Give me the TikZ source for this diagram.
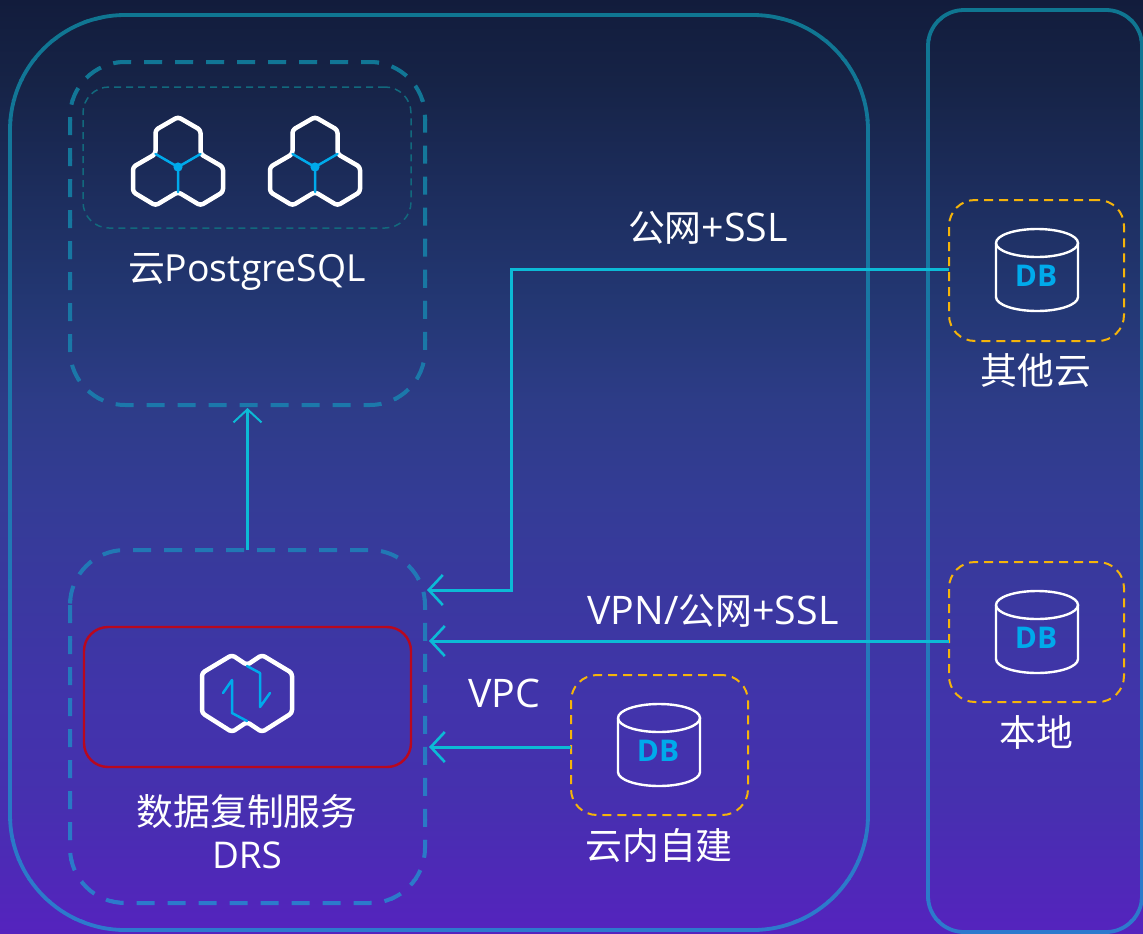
\documentclass[tikz,border=0pt]{standalone}
\usepackage{fontspec}
\setmainfont{Open Sans}
\newfontfamily\cjk{Noto Sans CJK SC}
\newcommand{\zh}[1]{{\cjk\fontsize{37}{43}\selectfont #1}}
\newcommand{\lat}[1]{{\fontsize{39.5}{43}\selectfont #1}}
\usetikzlibrary{arrows.meta,calc}
\definecolor{lineTop}{RGB}{15,118,145}
\definecolor{lineBot}{RGB}{45,122,205}
\definecolor{innerteal}{RGB}{18,105,125}
\definecolor{cyanline}{RGB}{12,186,214}
\definecolor{icoblue}{RGB}{0,170,235}
\definecolor{yel}{RGB}{245,180,10}
\definecolor{redb}{RGB}{185,8,30}
\pgfdeclareverticalshading{bgshade}{100bp}{
 rgb(0bp)=(0.333,0.137,0.745);
 rgb(25bp)=(0.333,0.137,0.745);
 rgb(32.2bp)=(0.275,0.188,0.686);
 rgb(37.5bp)=(0.255,0.204,0.667);
 rgb(48.2bp)=(0.204,0.235,0.588);
 rgb(53.6bp)=(0.176,0.235,0.529);
 rgb(58.9bp)=(0.137,0.216,0.451);
 rgb(70.7bp)=(0.086,0.137,0.275);
 rgb(75bp)=(0.071,0.110,0.235);
 rgb(100bp)=(0.071,0.110,0.235)}
\tikzset{
 holder/.style={rectangle,inner sep=0,outer sep=0,anchor=north west},
 panelline/.style={line width=3.8bp},
 dashline/.style={line width=4bp,rounded corners=55bp,dash pattern=on 18bp off 13bp},
 ybox/.style={draw=yel,line width=2bp,rectangle,rounded corners=26bp,inner sep=0,outer sep=0,dash pattern=on 9bp off 6bp},
 lbl/.style={text=white,font=\fontsize{37}{43}\selectfont,inner sep=0,align=center},
 conn/.style={draw=cyanline,line width=3bp,-{Straight Barb[length=14bp,width=30bp,line width=2.6bp]}},
 connthin/.style={draw=cyanline,line width=2.6bp,-{Straight Barb[length=13bp,width=28bp,line width=2bp]}},
 whiteico/.style={draw=white,line width=4.5bp,rounded corners=3bp,line join=round},
 blueico/.style={draw=icoblue,line width=2.5bp,line cap=round,line join=round},
}
\newcommand{\hexcluster}[1]{\begin{scope}[shift={(#1,0)}]
 \draw[whiteico] (178,117)--(200.5,130)--(200.5,154)--(223,167)--(223,192)--(200.5,205.5)--(178,192)--(155.5,205.5)--(133,192)--(133,167)--(155.5,154)--(155.5,130)--cycle;
 \draw[blueico] (155.5,154)--(178,167)--(200.5,154) (178,167)--(178,192);
 \fill[icoblue] (178,167) circle (4.6bp);
\end{scope}}
\newcommand{\cyl}[2]{\begin{scope}[shift={(#1,#2)}]
 \draw[white,line width=2.4bp] (996,243) arc[start angle=180,end angle=-180,x radius=41bp,y radius=14bp];
 \draw[white,line width=2.4bp] (996,243)--(996,297) arc[start angle=180,end angle=360,x radius=41bp,y radius=14bp]--(1078,243);
 \node[text=icoblue,font=\fontsize{30}{32}\selectfont\bfseries,inner sep=0] at (1036,276) {DB};
\end{scope}}
\begin{document}
\begin{tikzpicture}[x=1bp,y=-1bp]
\useasboundingbox (0,0) rectangle (1143,934);
\begin{scope}
\clip (0,0) rectangle (1143,934);
\shade[shading=bgshade] (0,0) rectangle (1143,934);
\node[holder,minimum width=858bp,minimum height=915bp] (cloud) at (10,15) {};
\node[holder,minimum width=214bp,minimum height=922bp] (ext) at (928,10) {};
\node[holder,minimum width=355bp,minimum height=343bp] (pg) at (70,62) {};
\node[holder,minimum width=355bp,minimum height=353bp] (drs) at (70,550) {};
\foreach \i in {0,...,46}{
 \pgfmathsetmacro\p{\i*100/46}
 \colorlet{bandc}{lineBot!\p!lineTop}
 \begin{scope}
 \clip (0,\i*20-0.3) rectangle (1143,\i*20+20.3);
 \draw[bandc,panelline,rounded corners=115bp] (cloud.north west) rectangle (cloud.south east);
 \draw[bandc,panelline,rounded corners=36bp] (ext.north west) rectangle (ext.south east);
 \draw[bandc,dashline] (pg.north west) rectangle (pg.south east);
 \draw[bandc,dashline] (drs.north west) rectangle (drs.south east);
 \end{scope}
}
\node[draw=innerteal,line width=1.5bp,rounded corners=26bp,dash pattern=on 7bp off 5bp,minimum width=328bp,minimum height=141bp,anchor=north west,inner sep=0,outer sep=0] (pgin) at (83,87) {};
\hexcluster{0}
\hexcluster{137}
\node[lbl] (pgl) at (247,272) {\zh{云}{\fontsize{37.5}{43}\selectfont PostgreSQL}};
\node[draw=redb,line width=2.4bp,rounded corners=24bp,minimum width=327bp,minimum height=140bp,anchor=north west,inner sep=0,outer sep=0] (red) at (84,627) {};
\draw[whiteico] (232,655)--(247,665)--(262,655)--(292,673)--(292,713)--(262,732)--(247,722)--(232,732)--(202,713)--(202,673)--cycle;
\draw[blueico] (247,666)--(260,673)--(260,707)--(270,693);
\draw[blueico] (223,693)--(232,680)--(232,713)--(247,721);
\node[lbl] (drsl) at (247,832) {\zh{数据复制服务}\\DRS};
\node[ybox,minimum width=175bp,minimum height=141bp,anchor=north west] (other) at (949,200) {};
\cyl{0}{0}
\node[lbl] (otherl) at (1036,371) {\zh{其他云}};
\node[ybox,minimum width=175bp,minimum height=140bp,anchor=north west] (local) at (949,562) {};
\cyl{0}{362}
\node[lbl] (locall) at (1036,732) {\zh{本地}};
\node[ybox,minimum width=177bp,minimum height=140bp,anchor=north west] (self) at (571,675) {};
\cyl{-378}{475}
\node[lbl] (selfl) at (659,846) {\zh{云内自建}};
\node[lbl] (l1) at (708,228) {\zh{公网}\lat{+SSL}};
\node[lbl] (l2) at (713,611) {\lat{VPN/}\zh{公网}\lat{+SSL}};
\node[lbl] (l3) at (504,693) {\lat{VPC}};
\coordinate (a1) at (427,590);
\coordinate (a2) at (429,641);
\coordinate (a3) at (429,747);
\coordinate (bend) at (511,269);
\draw[conn] (other.west |- bend) -- (bend) -- (bend |- a1) -- (a1);
\draw[conn] (local.west |- a2) -- (a2);
\draw[conn] (self.west |- a3) -- (a3);
\draw[connthin] (drs.north) -- ($(pg.south)+(0,3)$);
\end{scope}
\end{tikzpicture}
\end{document}
